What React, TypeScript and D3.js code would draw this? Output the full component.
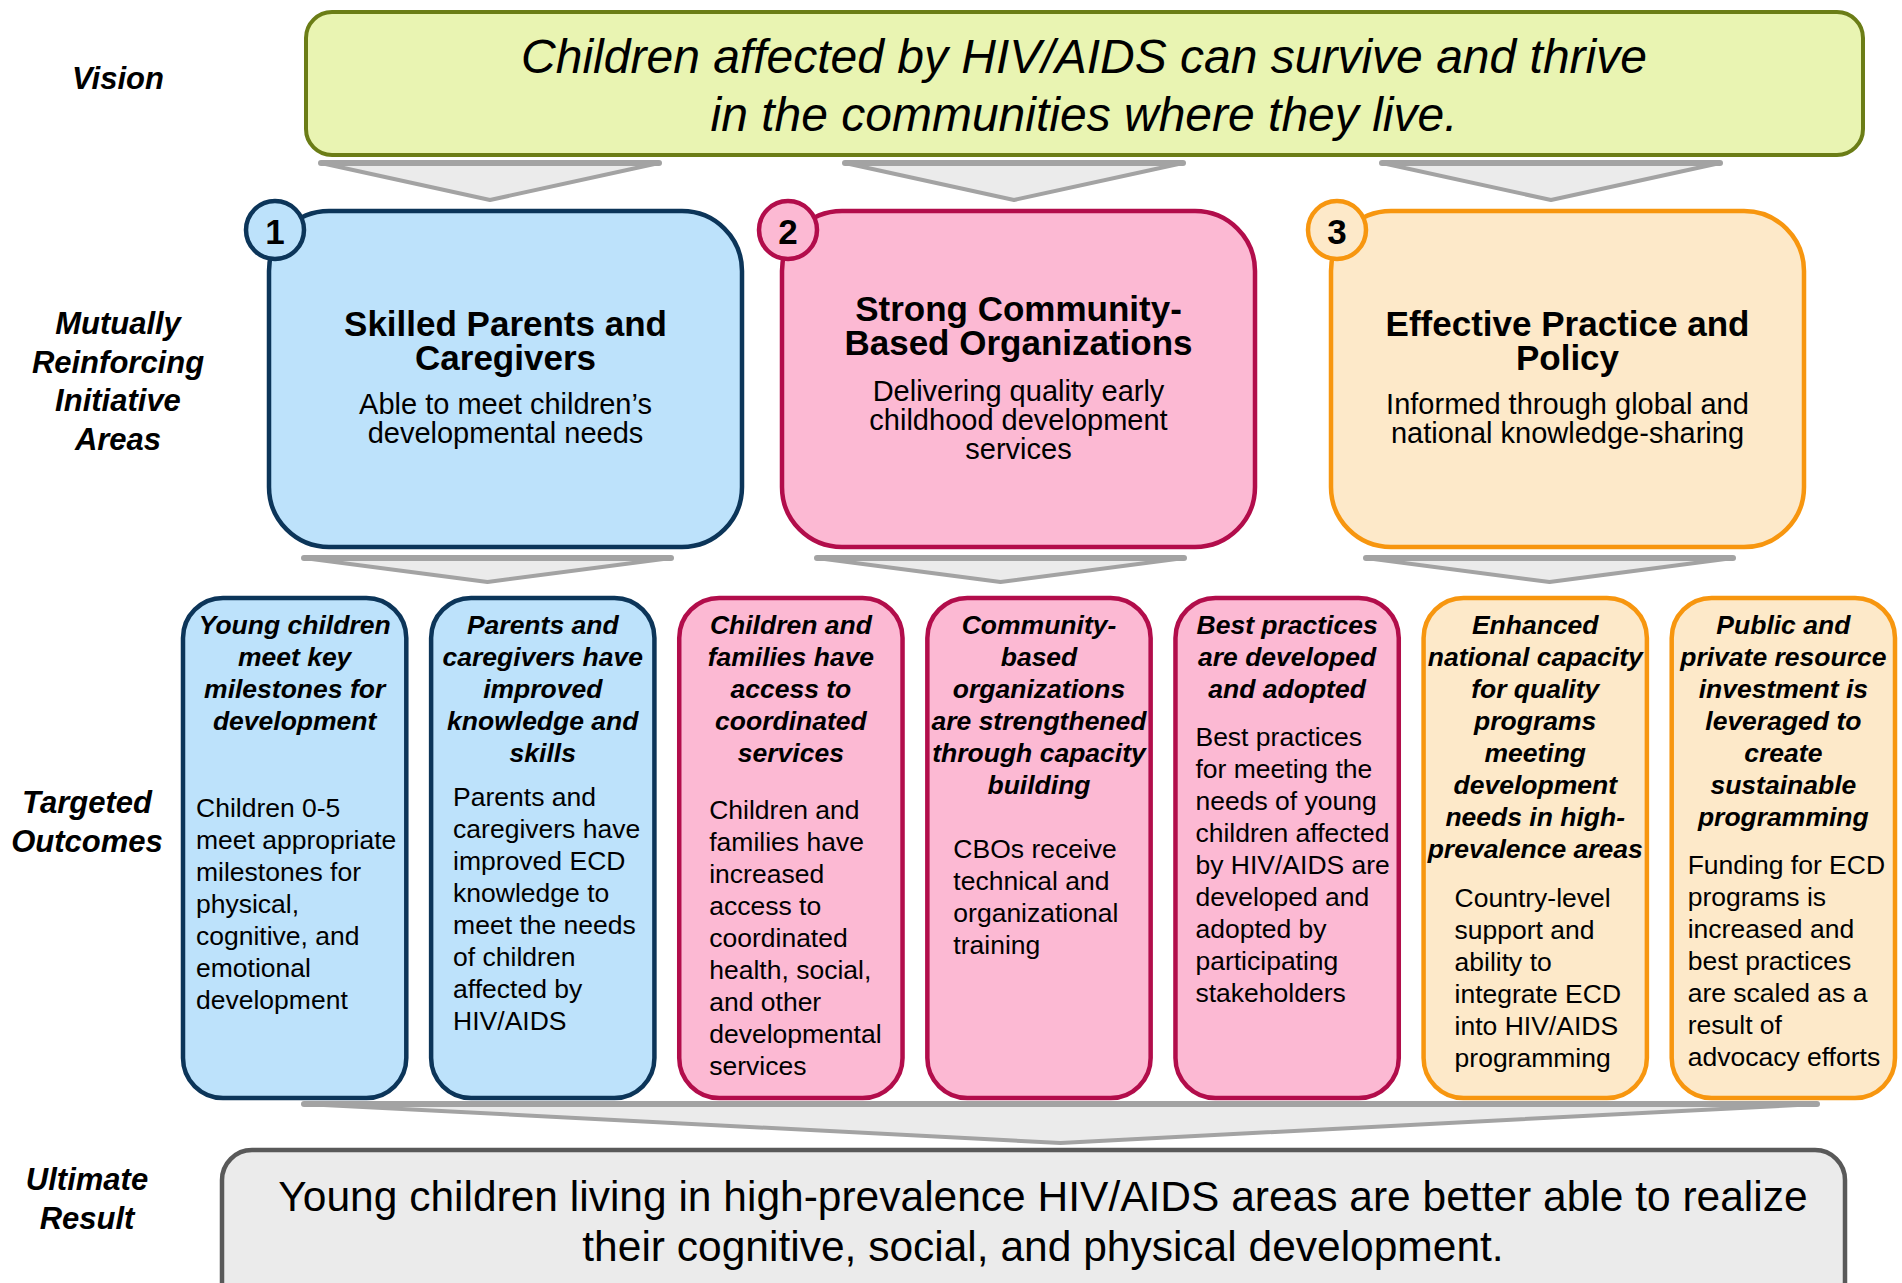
import * as d3 from "d3"

// ---- content ----
const rowLabels = [
    { lines: ["Vision"], y: 78, x: 118 },
    { lines: ["Mutually", "Reinforcing", "Initiative", "Areas"], y: 323, x: 118 },
    { lines: ["Targeted", "Outcomes"], y: 802, x: 87 },
    { lines: ["Ultimate", "Result"], y: 1179, x: 87 },
]

const visionLines = ["Children affected by HIV/AIDS can survive and thrive", "in the communities where they live."]

const areaNumbers = ["1", "2", "3"]
const areaTitles = [
    ["Skilled Parents and", "Caregivers"],
    ["Strong Community-", "Based Organizations"],
    ["Effective Practice and", "Policy"],
]
const areaSubtitles = [
    ["Able to meet children\u2019s", "developmental needs"],
    ["Delivering quality early", "childhood development", "services"],
    ["Informed through global and", "national knowledge-sharing"],
]
// which area each outcome belongs to
const outcomeArea = [0, 0, 1, 1, 1, 2, 2]
const outcomeTitles = [
    ["Young children", "meet key", "milestones for", "development"],
    ["Parents and", "caregivers have", "improved", "knowledge and", "skills"],
    ["Children and", "families have", "access to", "coordinated", "services"],
    ["Community-", "based", "organizations", "are strengthened", "through capacity", "building"],
    ["Best practices", "are developed", "and adopted"],
    ["Enhanced", "national capacity", "for quality", "programs", "meeting", "development", "needs in high-", "prevalence areas"],
    ["Public and", "private resource", "investment is", "leveraged to", "create", "sustainable", "programming"],
]
const outcomeBodies = [
    ["Children 0-5", "meet appropriate", "milestones for", "physical,", "cognitive, and", "emotional", "development"],
    ["Parents and", "caregivers have", "improved ECD", "knowledge to", "meet the needs", "of children", "affected by", "HIV/AIDS"],
    ["Children and", "families have", "increased", "access to", "coordinated", "health, social,", "and other", "developmental", "services"],
    ["CBOs receive", "technical and", "organizational", "training"],
    ["Best practices", "for meeting the", "needs of young", "children affected", "by HIV/AIDS are", "developed and", "adopted by", "participating", "stakeholders"],
    ["Country-level", "support and", "ability to", "integrate ECD", "into HIV/AIDS", "programming"],
    ["Funding for ECD", "programs is", "increased and", "best practices", "are scaled as a", "result of", "advocacy efforts"],
]
const resultLines = [
    "Young children living in high-prevalence HIV/AIDS areas are better able to realize",
    "their cognitive, social, and physical development.",
]

// ---- layout / style ----
const W = 1902
const H = 1283
const FONT = "'Liberation Sans', Arial, Helvetica, sans-serif"
const palette = [
    { fill: "#bde2fb", stroke: "#0c3559" },
    { fill: "#fcb9d3", stroke: "#b20d4b" },
    { fill: "#fde9c9", stroke: "#f7960f" },
]
const areaLeft = [269, 782, 1331]
const areaW = 473
const areaTop = 211
const areaH = 336
const areaTitleY = [323, 308, 323]
const areaSubY = [404, 391, 404]
const visionChevronX = [321, 845, 1382]
const bodyTop = [808, 797, 810, 849, 737, 898, 865]
const bodyIndent = [13, 22, 30, 26, 20, 31, 16]
const outTop = 598
const outH = 500

const xOut = d3.scaleBand<number>().domain(d3.range(7)).range([183, 1895]).paddingInner(0.1)

function Chevron({ x0, x1, y0, y1 }: { x0: number; x1: number; y0: number; y1: number }) {
    const path = d3.path()
    path.moveTo(x0, y0)
    path.lineTo(x1, y0)
    path.lineTo((x0 + x1) / 2, y1)
    path.closePath()
    return (
        <g>
            <path d={path.toString()} fill="#ebebeb" stroke="#a3a3a3" strokeWidth={4} strokeLinejoin="round" />
            <line x1={x0} x2={x1} y1={y0} y2={y0} stroke="#a3a3a3" strokeWidth={6} strokeLinecap="round" />
        </g>
    )
}

export default function App() {
    return (
        <svg
            width={W}
            height={H}
            viewBox={`0 0 ${W} ${H}`}
            style={{ position: "absolute", left: 0, top: 0, background: "#fff" }}
            fontFamily={FONT}
        >
            {/* row labels */}
            {rowLabels.map((r, i) => (
                <text key={i} x={r.x} fontSize={31} fontWeight="bold" fontStyle="italic" textAnchor="middle" dominantBaseline="central">
                    {r.lines.map((l, j) => (
                        <tspan key={j} x={r.x} y={r.y + j * 38.5}>{l}</tspan>
                    ))}
                </text>
            ))}

            {/* vision */}
            <rect x={306} y={12} width={1557} height={143} rx={26} fill="#e9f4b2" stroke="#6b7d16" strokeWidth={4} />
            {visionLines.map((l, i) => (
                <text key={i} x={1084} y={56 + i * 58} fontSize={48} fontStyle="italic" textAnchor="middle" dominantBaseline="central">{l}</text>
            ))}

            {/* chevrons from vision */}
            {visionChevronX.map((x, i) => (
                <Chevron key={i} x0={x} x1={x + 338} y0={163} y1={200} />
            ))}

            {/* initiative areas */}
            {areaLeft.map((x, i) => {
                const c = palette[i]
                const cx = x + areaW / 2
                return (
                    <g key={i}>
                        <rect x={x} y={areaTop} width={areaW} height={areaH} rx={60} fill={c.fill} stroke={c.stroke} strokeWidth={4.5} />
                        <circle cx={x + 6} cy={230} r={29} fill={c.fill} stroke={c.stroke} strokeWidth={4.5} />
                        <text x={x + 6} y={231} fontSize={35} fontWeight="bold" textAnchor="middle" dominantBaseline="central">{areaNumbers[i]}</text>
                        <text x={cx} fontSize={35} fontWeight="bold" textAnchor="middle" dominantBaseline="central">
                            {areaTitles[i].map((l, j) => (
                                <tspan key={j} x={cx} y={areaTitleY[i] + j * 33.5}>{l}</tspan>
                            ))}
                        </text>
                        <text x={cx} fontSize={29} textAnchor="middle" dominantBaseline="central">
                            {areaSubtitles[i].map((l, j) => (
                                <tspan key={j} x={cx} y={areaSubY[i] + j * 29}>{l}</tspan>
                            ))}
                        </text>
                        <Chevron x0={x + 35} x1={x + 402} y0={558} y1={582} />
                    </g>
                )
            })}

            {/* outcomes */}
            {outcomeTitles.map((title, i) => {
                const c = palette[outcomeArea[i]]
                const x = xOut(i) as number
                const w = xOut.bandwidth()
                return (
                    <g key={i}>
                        <rect x={x} y={outTop} width={w} height={outH} rx={40} fill={c.fill} stroke={c.stroke} strokeWidth={4.5} />
                        {title.map((l, j) => (
                            <text key={"t" + j} x={x + w / 2} y={625 + j * 32} fontSize={26.5} fontWeight="bold" fontStyle="italic" textAnchor="middle" dominantBaseline="central">{l}</text>
                        ))}
                        {outcomeBodies[i].map((l, j) => (
                            <text key={"b" + j} x={x + bodyIndent[i]} y={bodyTop[i] + j * 32} fontSize={26.5} dominantBaseline="central">{l}</text>
                        ))}
                    </g>
                )
            })}

            {/* big chevron to result */}
            <Chevron x0={304} x1={1817} y0={1104} y1={1143} />

            {/* ultimate result */}
            <rect x={222} y={1150} width={1623} height={170} rx={30} fill="#ebebeb" stroke="#595959" strokeWidth={4.5} />
            {resultLines.map((l, i) => (
                <text key={i} x={1043} y={1196 + i * 50} fontSize={42.5} textAnchor="middle" dominantBaseline="central">{l}</text>
            ))}
        </svg>
    )
}
